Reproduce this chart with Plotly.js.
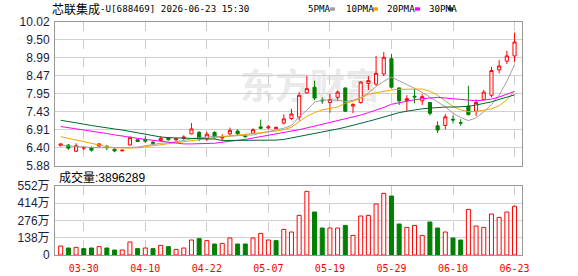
<!DOCTYPE html>
<html><head><meta charset="utf-8">
<script src="https://cdn.plot.ly/plotly-3.0.1.min.js"></script>
<style>html,body{margin:0;padding:0;background:#fff}#chart{width:578px;height:276px}</style>
</head><body><div id="chart"></div>
<script>
// ---- data ----
const dates = ["03-25","03-26","03-27","03-30","03-31","04-01","04-02","04-03","04-07","04-08",
"04-09","04-10","04-13","04-14","04-15","04-16","04-17","04-20","04-21","04-22",
"04-23","04-24","04-27","04-28","04-29","04-30","05-06","05-07","05-08","05-11",
"05-12","05-13","05-14","05-15","05-18","05-19","05-20","05-21","05-22","05-25",
"05-26","05-27","05-28","05-29","06-01","06-02","06-03","06-04","06-05","06-08",
"06-09","06-10","06-11","06-12","06-15","06-16","06-17","06-18","06-22","06-23"];
const openP = [6.45,6.47,6.29,6.38,6.39,6.44,6.43,6.35,6.30,6.47,
6.62,6.63,6.55,6.60,6.68,6.62,6.66,6.79,6.83,6.64,
6.83,6.67,6.79,6.87,6.73,6.81,6.99,6.96,6.94,7.10,
7.23,7.27,7.97,8.13,7.76,7.69,7.84,8.11,7.59,7.69,
8.24,8.22,8.51,8.95,8.11,7.75,7.87,7.74,7.69,7.02,
7.03,7.21,7.11,7.59,7.44,7.78,7.90,8.63,8.88,9.03];
const highP = [6.52,6.50,6.52,6.43,6.43,6.52,6.47,6.37,6.33,6.72,
6.64,6.72,6.59,6.72,6.70,6.67,6.75,7.10,6.87,6.85,
6.87,6.78,6.97,6.92,6.76,6.95,7.20,7.04,7.00,7.35,
7.51,7.99,8.45,8.32,7.84,7.94,8.03,8.12,7.67,8.30,
8.45,9.03,9.14,9.09,8.12,7.90,8.09,7.93,7.71,7.15,
7.36,7.32,7.21,8.17,7.78,8.05,8.72,8.91,9.18,9.70];
const lowP = [6.43,6.33,6.27,6.32,6.28,6.41,6.32,6.26,6.29,6.45,
6.56,6.53,6.47,6.58,6.60,6.58,6.62,6.78,6.58,6.58,
6.65,6.60,6.74,6.76,6.68,6.78,6.94,6.92,6.92,7.06,
7.19,7.17,7.95,7.76,7.65,7.40,7.74,7.43,7.38,7.66,
8.05,8.17,8.45,8.09,7.62,7.44,7.67,7.62,7.32,6.81,
6.92,7.09,7.02,7.33,7.30,7.76,7.84,8.53,8.80,8.86];
const closeP = [6.50,6.38,6.45,6.39,6.32,6.50,6.39,6.30,6.32,6.68,
6.57,6.58,6.52,6.66,6.62,6.65,6.70,6.93,6.66,6.78,
6.68,6.70,6.89,6.79,6.71,6.91,6.95,6.99,6.97,7.22,
7.36,7.90,8.09,7.82,7.74,7.78,7.99,7.44,7.63,8.28,
8.32,8.53,8.99,8.13,7.74,7.80,7.85,7.86,7.38,6.90,
7.28,7.19,7.10,7.34,7.69,7.99,8.61,8.74,9.03,9.43];
const volume = [720000,560000,610000,510000,560000,670000,560000,400000,400000,1040000,
510000,560000,510000,770000,670000,450000,560000,1200000,1310000,1150000,
880000,930000,1360000,880000,880000,1360000,1730000,1200000,1150000,2050000,
1840000,3170000,5090000,3440000,2160000,2160000,2160000,2370000,1570000,3120000,
3170000,4080000,4930000,4720000,2480000,2210000,2370000,1570000,2640000,2160000,
1840000,1360000,1200000,3650000,2320000,2210000,3280000,3010000,3440000,3896289];
const ma5 = [6.46,6.44,6.42,6.41,6.40,6.39,6.39,6.38,6.38,6.40,
6.41,6.45,6.50,6.52,6.53,6.56,6.60,6.65,6.68,6.71,
6.72,6.71,6.73,6.74,6.75,6.76,6.81,6.86,6.89,6.95,
7.03,7.28,7.47,7.70,7.76,7.76,7.76,7.72,7.75,7.82,
7.97,8.15,8.30,8.42,8.32,8.21,8.10,7.98,7.84,7.70,
7.57,7.38,7.26,7.17,7.25,7.42,7.63,7.90,8.30,8.78];
const ma10 = [6.71,6.66,6.61,6.56,6.51,6.46,6.42,6.39,6.38,6.38,
6.39,6.42,6.45,6.47,6.50,6.53,6.57,6.61,6.64,6.67,
6.69,6.71,6.73,6.75,6.77,6.79,6.81,6.84,6.87,6.91,
6.98,7.14,7.29,7.40,7.48,7.52,7.56,7.67,7.73,7.82,
7.93,7.97,8.02,8.05,8.07,8.08,8.08,8.08,8.01,7.90,
7.74,7.58,7.48,7.43,7.43,7.46,7.51,7.60,7.77,8.02];
const ma20 = [7.00,6.97,6.94,6.91,6.88,6.84,6.80,6.76,6.72,6.69,
6.66,6.63,6.60,6.58,6.55,6.52,6.50,6.50,6.50,6.51,
6.52,6.55,6.57,6.60,6.63,6.67,6.71,6.74,6.78,6.81,
6.85,6.91,6.96,7.01,7.07,7.11,7.16,7.22,7.27,7.33,
7.40,7.47,7.55,7.64,7.69,7.73,7.77,7.80,7.83,7.84,
7.82,7.80,7.78,7.75,7.74,7.76,7.79,7.85,7.92,8.01];
const ma30 = [7.18,7.15,7.11,7.07,7.03,6.99,6.96,6.93,6.90,6.86,
6.81,6.76,6.72,6.70,6.68,6.67,6.66,6.66,6.66,6.65,
6.64,6.60,6.60,6.59,6.59,6.59,6.59,6.60,6.61,6.63,
6.67,6.72,6.76,6.80,6.84,6.88,6.93,6.98,7.03,7.09,
7.15,7.21,7.28,7.35,7.40,7.44,7.48,7.51,7.53,7.55,
7.56,7.56,7.56,7.58,7.62,7.66,7.71,7.78,7.84,7.91];
const maNames = ["5PMA","10PMA","20PMA","30PMA"];
const priceTicks = [5.88,6.40,6.91,7.43,7.95,8.47,8.99,9.50,10.02];
const priceTickText = ["5.88","6.40","6.91","7.43","7.95","8.47","8.99","9.50","10.02"];
const volTicks = [0,1380000,2760000,4140000,5520000];
const volTickText = ["0","138万","276万","414万","552万"];
const dateTicks = ["03-30","04-10","04-22","05-07","05-19","05-29","06-10","06-23"];
const stockTitle = "芯联集成";
const stockTitleRest = "-U[688469] 2026-06-23 15:30";
const volLabel = "成交量:3896289";

// ---- styling ----
const W = 578, H = 276;
const px = x => x / W, py = y => 1 - y / H;
const RED = "#ff0000", GREEN = "#008000";
const maColors = ["#a0a0a0","#f5a300","#ff00ff","#006633"];
const maData = [ma5, ma10, ma20, ma30];

const volUp = volume.map((v,i) => i === 0 ? closeP[i] >= openP[i] : closeP[i] >= closeP[i-1]);

const traces = [];
traces.push({
  type: "candlestick", x: dates, open: openP, high: highP, low: lowP, close: closeP,
  xaxis: "x", yaxis: "y", showlegend: false, hoverinfo: "skip",
  increasing: {line: {color: RED, width: 1}, fillcolor: "#ffffff"},
  decreasing: {line: {color: GREEN, width: 1}, fillcolor: GREEN},
  whiskerwidth: 0
});
maData.forEach((d, k) => traces.push({
  type: "scatter", mode: "lines", x: dates, y: d, xaxis: "x", yaxis: "y",
  line: {color: maColors[k], width: 1}, showlegend: false, hoverinfo: "skip"
}));
traces.push({
  type: "bar", x: dates, y: volume, xaxis: "x2", yaxis: "y2", width: 0.52,
  marker: {color: volUp.map(u => u ? "#ffffff" : GREEN),
           line: {color: volUp.map(u => u ? RED : GREEN), width: 1}},
  showlegend: false, hoverinfo: "skip"
});

const xr = [-0.74, 59.97];
const tickFont = {family: "Liberation Sans, Noto Sans CJK SC", size: 12, color: "#1c1c3a"};
const common = {
  type: "category", range: xr, domain: [px(55), px(522)],
  showgrid: true, gridcolor: "#cccccc", griddash: "dash", gridwidth: 1,
  tickvals: dateTicks, ticks: "", showline: true, mirror: true, linecolor: "#999999", linewidth: 1,
  zeroline: false, fixedrange: true, rangeslider: {visible: false}
};
const layout = {
  width: W, height: H, margin: {l: 0, r: 0, t: 0, b: 0},
  paper_bgcolor: "#ffffff", plot_bgcolor: "#ffffff", showlegend: false,
  boxgap: 0.42, bargap: 0,
  xaxis: Object.assign({}, common, {anchor: "y", showticklabels: false}),
  xaxis2: Object.assign({}, common, {anchor: "y2", matches: "x", showticklabels: true,
    ticktext: dateTicks, tickfont: {family: "DejaVu Sans Mono", size: 10, color: RED}, ticklabelstandoff: 4}),
  yaxis: {domain: [py(165.5), py(21.5)], range: [5.88, 10.02], tickvals: priceTicks, ticktext: priceTickText,
    showgrid: true, gridcolor: "#d0d0d0", gridwidth: 1, showline: true, mirror: true, linecolor: "#999999",
    ticks: "", tickfont: tickFont, zeroline: false, fixedrange: true, ticklabelstandoff: 2},
  yaxis2: {domain: [py(255), py(186)], range: [0, 5520000], tickvals: volTicks, ticktext: volTickText,
    showgrid: true, gridcolor: "#d0d0d0", gridwidth: 1, showline: true, mirror: true, linecolor: "#999999",
    ticks: "", tickfont: tickFont, zeroline: false, fixedrange: true, ticklabelstandoff: 2},
  annotations: [],
  shapes: []
};
// watermark below data
layout.shapes.push({type: "rect", xref: "paper", yref: "paper", x0: px(236), x1: px(384), y0: py(108), y1: py(70),
  line: {width: 0}, fillcolor: "rgba(0,0,0,0)", layer: "below",
  label: {text: "东方财富", font: {family: "Noto Sans CJK SC", size: 35, color: "#eaeaea", weight: "bold"}}});
// title
layout.annotations.push({xref: "paper", yref: "paper", x: px(50), y: py(8.7), xanchor: "left", yanchor: "middle",
  text: stockTitle, showarrow: false, font: {family: "Noto Sans CJK SC", size: 12, color: "#000"}});
layout.annotations.push({xref: "paper", yref: "paper", x: px(98), y: py(8.7), xanchor: "left", yanchor: "middle",
  text: stockTitleRest, showarrow: false, font: {family: "DejaVu Sans Mono", size: 9.2, color: "#000"}});
// MA legend
const legX = [306, 344, 385, 427];
const sqX = [330, 373, 415, 448];
maNames.forEach((n, k) => {
  layout.annotations.push({xref: "paper", yref: "paper", x: px(legX[k]), y: py(8.7), xanchor: "left", yanchor: "middle",
    text: n, showarrow: false, font: {family: "DejaVu Sans Mono", size: 9.2, color: "#000"}});
  layout.shapes.push({type: "rect", xref: "paper", yref: "paper", x0: px(sqX[k]), x1: px(sqX[k] + 5),
    y0: py(10.7), y1: py(7.3), line: {width: 0}, fillcolor: maColors[k]});
});
// volume label
layout.annotations.push({xref: "paper", yref: "paper", x: px(57), y: py(177.5), xanchor: "left", yanchor: "middle",
  text: volLabel, showarrow: false, font: {family: "Liberation Sans, Noto Sans CJK SC", size: 12, color: "#000"}});

Plotly.newPlot("chart", traces, layout, {displayModeBar: false, staticPlot: true});
</script></body></html>
